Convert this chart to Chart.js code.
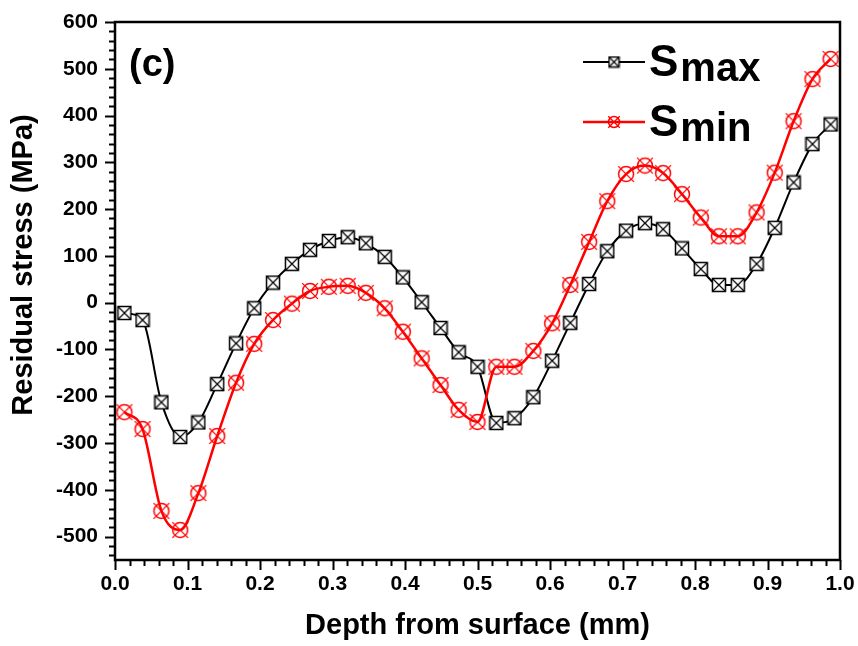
<!DOCTYPE html>
<html>
<head>
<meta charset="utf-8">
<script src="https://cdn.jsdelivr.net/npm/chart.js@4/dist/chart.umd.min.js"></script>
<style>
  html, body { margin: 0; padding: 0; background: #ffffff; }
  #wrap { width: 858px; height: 646px; position: relative; }
</style>
</head>
<body>
<div id="wrap"><canvas id="c" width="858" height="646"></canvas></div>
<script>
// ---- data ----
const depth = [0.013, 0.038, 0.064, 0.090, 0.115, 0.141, 0.167, 0.192, 0.218, 0.244,
               0.269, 0.295, 0.321, 0.346, 0.372, 0.397, 0.423, 0.449, 0.474, 0.500,
               0.526, 0.551, 0.577, 0.603, 0.628, 0.654, 0.679, 0.705, 0.731, 0.756,
               0.782, 0.808, 0.833, 0.859, 0.885, 0.910, 0.936, 0.962, 0.987];
const sMax = [-22, -37, -213, -287, -256, -174, -87, -12, 43, 83,
              113, 132, 140, 127, 98, 54, 1, -54, -106, -137,
              -257, -247, -202, -124, -43, 40, 110, 154, 170, 157,
              116, 72, 38, 38, 83, 160, 257, 339, 381];
const sMin = [-234, -270, -445, -486, -407, -285, -171, -88, -37, -2,
              25, 34, 36, 21, -12, -62, -119, -176, -229, -255,
              -137, -137, -103, -44, 38, 130, 217, 275, 293, 277,
              232, 182, 142, 142, 193, 278, 388, 478, 521];
const xTickLabels = [0.0, 0.1, 0.2, 0.3, 0.4, 0.5, 0.6, 0.7, 0.8, 0.9, 1.0];
const yTickLabels = [-500, -400, -300, -200, -100, 0, 100, 200, 300, 400, 500, 600];
const seriesNames = ['max', 'min'];
const xTitle = 'Depth from surface (mm)';
const yTitle = 'Residual stress (MPa)';
const panelLabel = '(c)';

const FONT = '"Liberation Sans", Arial, sans-serif';

// ---- marker images ----
function squareMarker(sz) {
  const c = document.createElement('canvas');
  c.width = sz + 2; c.height = sz + 2;
  const g = c.getContext('2d');
  const o = 1.5, e = sz + 0.5;
  g.fillStyle = '#ffffff';
  g.fillRect(o, o, e - o, e - o);
  g.strokeStyle = '#000000';
  g.lineWidth = 1.5;
  g.strokeRect(o, o, e - o, e - o);
  g.beginPath();
  g.moveTo(o, o); g.lineTo(e, e);
  g.moveTo(e, o); g.lineTo(o, e);
  g.lineWidth = 1.2;
  g.stroke();
  return c;
}
function circleMarker(sz) {
  const c = document.createElement('canvas');
  c.width = sz + 4; c.height = sz + 4;
  const g = c.getContext('2d');
  const m = (sz + 4) / 2;
  const r = sz / 2 - 0.5;
  g.strokeStyle = '#ff0000';
  g.lineWidth = 1.5;
  g.beginPath();
  g.arc(m, m, r, 0, Math.PI * 2);
  g.stroke();
  const d = r * 1.05;
  g.beginPath();
  g.moveTo(m - d, m - d); g.lineTo(m + d, m + d);
  g.moveTo(m + d, m - d); g.lineTo(m - d, m + d);
  g.lineWidth = 1.3;
  g.stroke();
  return c;
}
const sqImg = squareMarker(14);
const ciImg = circleMarker(16);
const sqLeg = squareMarker(11);
const ciLeg = circleMarker(12);

// ---- frame, minor ticks, legend, labels ----
const decor = {
  id: 'decor',
  afterDraw(chart) {
    const ctx = chart.ctx;
    const a = chart.chartArea;
    const xs = chart.scales.x, ys = chart.scales.y;
    ctx.save();
    ctx.strokeStyle = '#000';
    // ticks
    ctx.lineWidth = 2;
    ctx.beginPath();
    for (let i = 0; i <= 50; i++) {
      const v = i * 0.02;
      const px = Math.round(xs.getPixelForValue(v)) + 0.5;
      const len = (i % 5 === 0) ? 10 : 6;
      ctx.moveTo(px, a.bottom); ctx.lineTo(px, a.bottom + len);
    }
    for (let v = -540; v <= 600; v += 20) {
      const py = Math.round(ys.getPixelForValue(v)) + 0.5;
      const len = (v % 100 === 0) ? 10 : 6;
      ctx.moveTo(a.left, py); ctx.lineTo(a.left - len, py);
    }
    ctx.stroke();
    // frame
    ctx.lineWidth = 2.5;
    ctx.strokeRect(a.left, a.top, a.right - a.left, a.bottom - a.top);

    // panel label
    ctx.fillStyle = '#000';
    ctx.textBaseline = 'alphabetic';
    ctx.textAlign = 'left';
    ctx.font = 'bold 38px ' + FONT;
    ctx.fillText(panelLabel, 129, 76);

    // legend
    const rows = [
      { y: 62, color: '#000000', lw: 2, img: sqLeg, sub: seriesNames[0] },
      { y: 122, color: '#ff0000', lw: 2.5, img: ciLeg, sub: seriesNames[1] }
    ];
    rows.forEach(r => {
      ctx.strokeStyle = r.color;
      ctx.lineWidth = r.lw;
      ctx.beginPath();
      ctx.moveTo(583, r.y); ctx.lineTo(645, r.y);
      ctx.stroke();
      ctx.drawImage(r.img, 614 - r.img.width / 2, r.y - r.img.height / 2);
      ctx.fillStyle = '#000';
      ctx.font = 'bold 44px ' + FONT;
      ctx.fillText('S', 649, r.y + 14);
      const w = ctx.measureText('S').width;
      ctx.font = 'bold 40px ' + FONT;
      ctx.fillText(r.sub, 649 + w + 2, r.y + 19);
    });

    // y title
    ctx.save();
    ctx.translate(24, 265);
    ctx.rotate(-Math.PI / 2);
    ctx.textAlign = 'center';
    ctx.textBaseline = 'middle';
    ctx.font = 'bold 29px ' + FONT;
    ctx.fillText(yTitle, 0, 0);
    ctx.restore();

    ctx.restore();
  }
};

new Chart(document.getElementById('c'), {
  type: 'scatter',
  data: {
    datasets: [
      {
        label: 'Smax',
        data: depth.map((d, i) => ({ x: d, y: sMax[i] })),
        showLine: true,
        borderColor: '#000000',
        borderWidth: 2,
        cubicInterpolationMode: 'monotone',
        pointStyle: sqImg,
        pointRadius: 7,
        pointHoverRadius: 7,
        order: 2
      },
      {
        label: 'Smin',
        data: depth.map((d, i) => ({ x: d, y: sMin[i] })),
        showLine: true,
        borderColor: '#ff0000',
        borderWidth: 2.5,
        cubicInterpolationMode: 'monotone',
        pointStyle: ciImg,
        pointRadius: 8,
        pointHoverRadius: 8,
        order: 1
      }
    ]
  },
  options: {
    responsive: false,
    animation: false,
    events: [],
    layout: { padding: { left: 0, right: 18, top: 22, bottom: 0 } },
    plugins: {
      legend: { display: false },
      tooltip: { enabled: false }
    },
    scales: {
      x: {
        type: 'linear',
        min: 0, max: 1,
        grid: { display: false, drawTicks: false },
        border: { display: false },
        afterBuildTicks: s => { s.ticks = xTickLabels.map(v => ({ value: v })); },
        ticks: {
          padding: 12,
          color: '#000',
          font: { family: FONT, size: 21, weight: 'bold' },
          maxRotation: 0,
          autoSkip: false,
          callback: v => Number(v).toFixed(1)
        },
        title: {
          display: true,
          text: xTitle,
          color: '#000',
          font: { family: FONT, size: 29, weight: 'bold' },
          padding: { top: 0, bottom: 3 }
        },
        afterFit: s => { s.height = 86; s.paddingLeft = 0; s.paddingRight = 0; }
      },
      y: {
        type: 'linear',
        min: -550, max: 600,
        grid: { display: false, drawTicks: false },
        border: { display: false },
        afterBuildTicks: s => { s.ticks = yTickLabels.map(v => ({ value: v })); },
        ticks: {
          padding: 17,
          color: '#000',
          font: { family: FONT, size: 21, weight: 'bold' },
          autoSkip: false,
          callback: v => String(v)
        },
        afterFit: s => { s.width = 115; s.paddingTop = 0; s.paddingBottom = 0; }
      }
    }
  },
  plugins: [decor]
});
</script>
</body>
</html>
